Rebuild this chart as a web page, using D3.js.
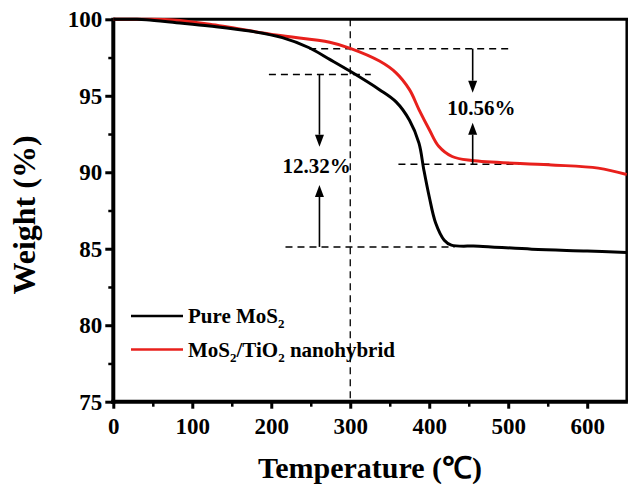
<!DOCTYPE html>
<html>
<head>
<meta charset="utf-8">
<script src="https://cdn.jsdelivr.net/npm/d3@7"></script>
<style>
  body { margin: 0; background: #fff; }
  text { font-family: "Liberation Serif", "Times New Roman", serif; font-weight: bold; }
</style>
</head>
<body>
<div id="chart"></div>
<script>
// TGA curves: [temperature (C), weight (%)]
var pureMoS2 = [[0,100],[30,100],[42,99.97],[80,99.78],[122,99.56],[173,99.23],[214,98.8],[248,98.14],
  [274,97.38],[300,96.6],[337,95.4],[358,94.6],[375,93.4],[387,91.9],[393,90.2],[400,88.4],[408,86.7],
  [419,85.56],[428,85.24],[463,85.17],[530,84.97],[600,84.85],[650,84.75]];
var hybrid = [[0,100],[40,100],[76,99.95],[122,99.67],[206,98.97],[274,98.5],[300,98.1],[337,97.27],
  [358,96.5],[375,95.4],[387,94.1],[400,92.8],[412,91.7],[429,91.03],[454,90.77],[551,90.49],[614,90.27],[650,89.85]];

var xTicks = [0, 100, 200, 300, 400, 500, 600];
var yTicks = [75, 80, 85, 90, 95, 100];

// dashed guides: weight level and temperature span
var guideLevels = [98.08, 96.39, 90.53, 85.12];
var guideFrom = [248, 197, 361, 218];
var guideTo = [503, 326, 557, 432];
var markTemp = 300;

// arrows: x temp, start weight, tip weight
var arrowTemp = [261, 261, 455, 455];
var arrowFrom = [96.39, 85.12, 98.08, 90.53];
var arrowTip = [91.67, 89.17, 95.2, 93.24];

var lossLabels = ["12.32%", "10.56%"];
var lossTemp = [257.5, 466];
var lossWeight = [89.95, 93.74];

var W = 628, H = 484;
var pL = 113.3, pR = 626.7, pT = 19.3, pB = 401.7;

var svg = d3.select("#chart").append("svg")
  .attr("width", W).attr("height", H);

var x = d3.scaleLinear().domain([0, 650]).range([pL, pR]);
var y = d3.scaleLinear().domain([75, 100]).range([pB, pT]);

// minor ticks
svg.append("g")
  .attr("transform", "translate(" + pL + ",0)")
  .call(d3.axisLeft(y).tickValues(d3.range(77.5, 100, 5)).tickSize(5).tickFormat(""))
  .call(g => g.select(".domain").remove())
  .selectAll("line").attr("stroke-width", 2.5);
svg.append("g")
  .attr("transform", "translate(0," + pB + ")")
  .call(d3.axisBottom(x).tickValues(d3.range(50, 650, 100)).tickSize(5).tickFormat(""))
  .call(g => g.select(".domain").remove())
  .selectAll("line").attr("stroke-width", 2.5);

// major ticks
var yAx = svg.append("g")
  .attr("transform", "translate(" + pL + ",0)")
  .call(d3.axisLeft(y).tickValues(yTicks).tickSize(8).tickPadding(3));
yAx.select(".domain").remove();
yAx.selectAll("line").attr("stroke-width", 3);
yAx.selectAll("text").style("font-size", "23px").attr("fill", "#000")
  .style("font-family", "Liberation Serif").style("font-weight", "bold");

var xAx = svg.append("g")
  .attr("transform", "translate(0," + pB + ")")
  .call(d3.axisBottom(x).tickValues(xTicks).tickSize(7).tickPadding(9));
xAx.select(".domain").remove();
xAx.selectAll("line").attr("stroke-width", 3);
xAx.selectAll("text").style("font-size", "23px").attr("fill", "#000")
  .style("font-family", "Liberation Serif").style("font-weight", "bold");

// frame
svg.append("line").attr("x1", pL).attr("x2", pR + 1.5).attr("y1", pT).attr("y2", pT)
  .attr("stroke", "#000").attr("stroke-width", 3);
svg.append("line").attr("x1", pR).attr("x2", pR).attr("y1", pT).attr("y2", pB)
  .attr("stroke", "#000").attr("stroke-width", 2.5);
svg.append("line").attr("x1", pL).attr("x2", pL).attr("y1", pT - 1.5).attr("y2", pB + 2)
  .attr("stroke", "#000").attr("stroke-width", 4);
svg.append("line").attr("x1", pL - 2).attr("x2", pR + 1.2).attr("y1", pB).attr("y2", pB)
  .attr("stroke", "#000").attr("stroke-width", 4);

// dashed guides
var dash = "7,5";
svg.append("line")
  .attr("x1", x(markTemp)).attr("x2", x(markTemp)).attr("y1", pT).attr("y2", pB)
  .attr("stroke", "#000").attr("stroke-width", 1.3).attr("stroke-dasharray", dash);
guideLevels.forEach(function (lv, i) {
  svg.append("line")
    .attr("x1", x(guideFrom[i])).attr("x2", x(guideTo[i]))
    .attr("y1", y(lv)).attr("y2", y(lv))
    .attr("stroke", "#000").attr("stroke-width", 1.5).attr("stroke-dasharray", dash);
});

// curves
var line = d3.line()
  .x(function (d) { return x(d[0]); })
  .y(function (d) { return y(d[1]); })
  .curve(d3.curveCatmullRom.alpha(0.5));
svg.append("path").datum(hybrid).attr("d", line)
  .attr("fill", "none").attr("stroke", "#e8201c").attr("stroke-width", 3);
svg.append("path").datum(pureMoS2).attr("d", line)
  .attr("fill", "none").attr("stroke", "#000").attr("stroke-width", 3);

// arrows
arrowTemp.forEach(function (t, i) {
  var ax = x(t), y0 = y(arrowFrom[i]), y1 = y(arrowTip[i]);
  var dir = y1 > y0 ? 1 : -1;
  var headLen = 12, headW = 4.5;
  svg.append("line")
    .attr("x1", ax).attr("x2", ax).attr("y1", y0).attr("y2", y1 - dir * headLen)
    .attr("stroke", "#000").attr("stroke-width", 1.6);
  svg.append("path")
    .attr("d", "M" + ax + "," + y1 + "L" + (ax - headW) + "," + (y1 - dir * headLen) +
      "L" + (ax + headW) + "," + (y1 - dir * headLen) + "Z")
    .attr("fill", "#000");
});

lossLabels.forEach(function (s, i) {
  svg.append("text")
    .attr("x", x(lossTemp[i])).attr("y", y(lossWeight[i]))
    .attr("text-anchor", "middle").style("font-size", "21px")
    .text(s);
});

// legend
var legend = [
  { color: "#000", y: 316, parts: [["Pure MoS", 0], ["2", 1]] },
  { color: "#e8201c", y: 349.5, parts: [["MoS", 0], ["2", 1], ["/TiO", 0], ["2", 1], [" nanohybrid", 0]] }
];
legend.forEach(function (l) {
  svg.append("line").attr("x1", 131).attr("x2", 183).attr("y1", l.y).attr("y2", l.y)
    .attr("stroke", l.color).attr("stroke-width", 2.5);
  var t = svg.append("text").attr("x", 188).attr("y", l.y + 7).style("font-size", "21px");
  l.parts.forEach(function (p) {
    var ts = t.append("tspan").text(p[0]);
    if (p[1]) ts.style("font-size", "13px").attr("dy", 5);
    else if (t.selectAll("tspan").size() > 1) ts.attr("dy", -5);
  });
});

// axis titles
svg.append("text")
  .attr("x", 370).attr("y", 478)
  .attr("text-anchor", "middle").style("font-size", "30px")
  .text("Temperature (℃)");
svg.append("text")
  .attr("transform", "translate(35,215) rotate(-90)")
  .attr("text-anchor", "middle").style("font-size", "32px")
  .text("Weight (%)");
</script>
</body>
</html>
